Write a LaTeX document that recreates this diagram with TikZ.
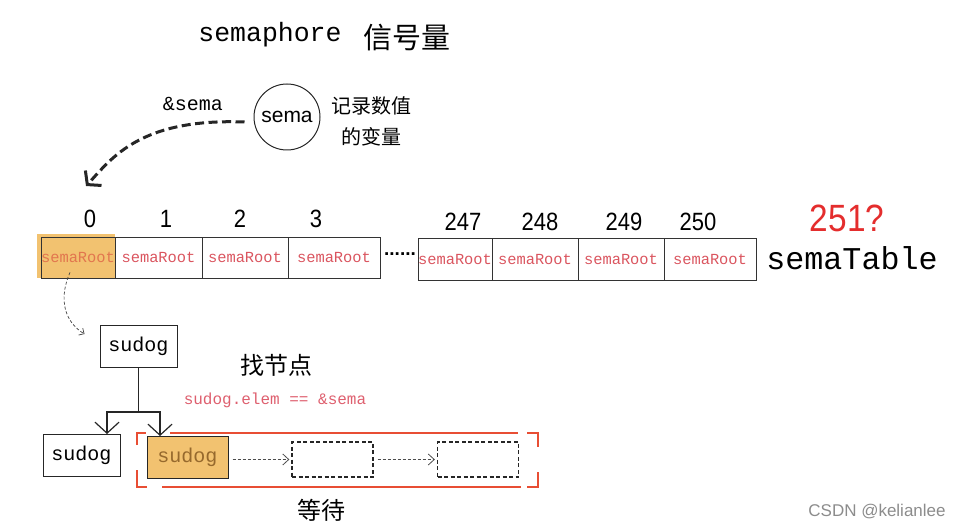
\documentclass[tikz,border=0pt]{standalone}
\usepackage{fontspec}
\setmainfont{Liberation Sans}
\newfontfamily\monof{Liberation Mono}
\newfontfamily\cjkf{Noto Sans CJK SC}
\newfontfamily\narrowf[FakeStretch=0.88]{Liberation Sans}
\usetikzlibrary{arrows.meta}
\definecolor{rootred}{RGB}{218,85,95}
\definecolor{hlorange}{RGB}{242,194,112}
\definecolor{hltext}{RGB}{226,118,78}
\definecolor{bracketred}{RGB}{232,78,52}
\definecolor{qred}{RGB}{228,45,45}
\definecolor{elemred}{RGB}{222,95,110}
\definecolor{sudogtext}{RGB}{150,105,45}
\tikzset{
  cellbox/.style={draw=black!80, line width=0.8pt, minimum height=41pt, inner sep=0pt, text=rootred, font=\monof\fontsize{15.4}{17}\selectfont},
  idxlabel/.style={font=\narrowf\fontsize{25}{27}\selectfont},
  sudogbox/.style={draw=black!85, line width=1pt, minimum width=77pt, minimum height=42pt, inner sep=0pt, font=\monof\fontsize{20}{22}\selectfont},
  waitbox/.style={draw=black!85, dashed, dash pattern=on 4pt off 2.5pt, line width=1.3pt, minimum width=81pt, minimum height=35pt, inner sep=0pt},
  tree/.style={draw=black!85, line width=1.2pt, -{Straight Barb[length=11pt,width=24pt]}},
  flow/.style={draw=black!70, line width=0.8pt, dash pattern=on 3pt off 2pt, -{Straight Barb[length=6pt,width=11pt]}},
  bracket/.style={draw=bracketred, line width=1.8pt},
}
\begin{document}
\begin{tikzpicture}[x=1pt,y=-1pt]
\useasboundingbox (0,0) rectangle (965,529);
% title
\node[font=\monof\fontsize{26.5}{30}\selectfont] (title) at (270,35) {semaphore};
\node[font=\cjkf\fontsize{29}{32}\selectfont] (titlecn) at (407,38) {信号量};
% sema circle
\node[circle, draw=black!85, line width=1pt, minimum size=66pt, inner sep=0pt, font=\fontsize{21}{24}\selectfont] (sema) at (287,117) {sema};
\node[font=\monof\fontsize{20}{22}\selectfont] (addr) at (193,104) {\&sema};
\node[font=\cjkf\fontsize{20}{31}\selectfont, align=center, inner sep=0pt] (desc) at (371,121) {记录数值\\的变量};
% highlight
\fill[hlorange] (37,234) rectangle (115,278);
% cells first group
\node[cellbox, minimum width=74pt, text=hltext] (c0) at (78,257.5) {semaRoot};
\node[cellbox, minimum width=87pt] (c1) at (158.5,257.5) {semaRoot};
\node[cellbox, minimum width=86pt] (c2) at (245,257.5) {semaRoot};
\node[cellbox, minimum width=92pt] (c3) at (334,257.5) {semaRoot};
% dots
\node[font=\bfseries\fontsize{19}{20}\selectfont, inner sep=0pt] (dots) at (400,254) {......};
% cells second group
\node[cellbox, minimum height=42pt, minimum width=74pt] (c247) at (455,259) {semaRoot};
\node[cellbox, minimum height=42pt, minimum width=86pt] (c248) at (535,259) {semaRoot};
\node[cellbox, minimum height=42pt, minimum width=86pt] (c249) at (621,259) {semaRoot};
\node[cellbox, minimum height=42pt, minimum width=92pt] (c250) at (710,259) {semaRoot};
% index labels
\node[idxlabel] (i0) at (90,219) {0};
\node[idxlabel] (i1) at (166,219) {1};
\node[idxlabel] (i2) at (240,219) {2};
\node[idxlabel] (i3) at (316,219) {3};
\node[idxlabel] (i247) at (463,222) {247};
\node[idxlabel] (i248) at (540,222) {248};
\node[idxlabel] (i249) at (624,222) {249};
\node[idxlabel] (i250) at (698,222) {250};
\node[text=qred, font=\narrowf\fontsize{38}{40}\selectfont] (q) at (847,218) {251?};
\node[font=\monof\fontsize{31.7}{34}\selectfont] (table) at (852,258) {semaTable};
% big dashed arrow
\coordinate (tip) at (86,186);
\draw[black!85, line width=3pt, dash pattern=on 9pt off 4.5pt, -{Straight Barb[length=9pt,width=22pt]}]
  ([xshift=-9pt,yshift=-5pt]sema.west) .. controls (140,118) and (112,158) .. (tip);
% sudog nodes
\node[sudogbox] (top) at (138.5,346) {sudog};
\node[sudogbox] (left) at (81.5,455) {sudog};
\node[sudogbox, fill=hlorange, minimum width=81pt, text=sudogtext] (cur) at (187.5,457) {sudog};
% small dashed arrow
\draw[black!75, line width=0.7pt, dash pattern=on 3pt off 2pt, -{Straight Barb[length=4pt,width=8pt]}]
  ([xshift=-8pt,yshift=6pt]c0.south) .. controls (58,300) and (65,322) .. ([xshift=-15pt,yshift=12pt]top.west);
% tree
\coordinate (jn) at (138.5,412);
\coordinate (la) at (107,434);
\coordinate (ra) at (160,436);
\draw[draw=black!85, line width=1.2pt] (top.south) -- (jn);
\draw[tree] (jn) -| (la);
\draw[tree] (jn) -| (ra);
% labels
\node[font=\cjkf\fontsize{24}{26}\selectfont] (find) at (276,365) {找节点};
\node[text=elemred, font=\monof\fontsize{16}{18}\selectfont] (elem) at (275,400) {sudog.elem == \&sema};
% waiting boxes
\node[waitbox] (w1) at (332.5,459.5) {};
\node[waitbox] (w2) at (478,459.5) {};
\draw[flow, shorten <=4pt, shorten >=2pt] (cur.east |- w1.west) -- (w1.west);
\draw[flow, shorten <=4pt, shorten >=2pt] (w1.east) -- (w2.west);
% red bracket
\draw[bracket] (137,445) -- (137,433) -- (146,433);
\draw[bracket] (170,433) -- (518,433);
\draw[bracket] (527,433) -- (538,433) -- (538,447);
\draw[bracket] (538,472) -- (538,487) -- (527,487);
\draw[bracket] (162,487) -- (521,487);
\draw[bracket] (147,487) -- (137,487) -- (137,470);
\node[font=\cjkf\fontsize{24}{26}\selectfont] (wait) at (321,510) {等待};
% watermark
\node[text=black!45, font=\fontsize{17}{19}\selectfont] (mark) at (877,512) {CSDN @kelianlee};
\end{tikzpicture}
\end{document}
